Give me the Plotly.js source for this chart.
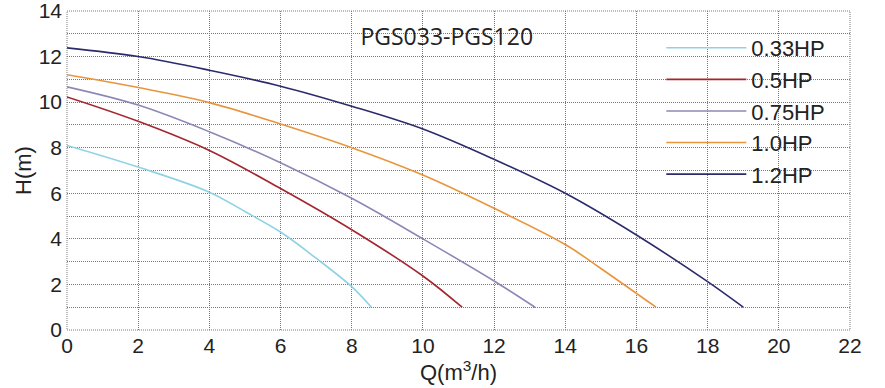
<!DOCTYPE html>
<html>
<head>
<meta charset="utf-8">
<script src="https://cdn.plot.ly/plotly-3.0.1.min.js"></script>
<style>html,body{margin:0;padding:0;background:#fff;}#chart{width:885px;height:388px;}</style>
</head>
<body>
<div id="chart"></div>
<script>
// Pump curves: flow Q (m3/h) vs head H (m)
const seriesNames = ["0.33HP", "0.5HP", "0.75HP", "1.0HP", "1.2HP"];
const q033 = [0, 2, 4, 5, 6, 7, 8, 8.55];
const h033 = [8.1, 7.15, 6.05, 5.2, 4.3, 3.15, 1.9, 1.0];
const q05 = [0, 2, 4, 6, 8, 10, 11.1];
const h05 = [10.23, 9.16, 7.88, 6.21, 4.4, 2.37, 1.0];
const q075 = [0, 2, 4, 6, 8, 10, 12, 13.15];
const h075 = [10.67, 9.87, 8.7, 7.34, 5.78, 4.0, 2.15, 1.0];
const q10 = [0, 2, 4, 6, 8, 10, 12, 14, 15, 16.55];
const h10 = [11.2, 10.64, 9.98, 9.04, 8.0, 6.8, 5.34, 3.75, 2.7, 1.0];
const q12 = [0, 2, 4, 6, 8, 10, 12, 14, 16, 18, 19];
const h12 = [12.38, 12.0, 11.4, 10.7, 9.82, 8.82, 7.49, 6.0, 4.17, 2.12, 1.0];
const xTicks = [0, 2, 4, 6, 8, 10, 12, 14, 16, 18, 20, 22];
const yTicks = [0, 2, 4, 6, 8, 10, 12, 14];

const colors = ["#8fd2e4", "#a3262f", "#8c88b6", "#e9953d", "#2b2b6c"];
const qs = [q033, q05, q075, q10, q12];
const hs = [h033, h05, h075, h10, h12];

const traces = seriesNames.map((n, i) => ({
  type: "scatter", mode: "lines", name: n,
  x: qs[i], y: hs[i],
  line: {color: colors[i], width: 1.6, shape: "spline", smoothing: 1}
}));

const gridColor = "#7a7a7a";
const gridStyle = {gridcolor: gridColor, gridwidth: 1, griddash: "1px,1px"};
const tickFont = {family: "Liberation Sans, Arial, sans-serif", size: 21, color: "#222"};

const layout = {
  width: 885, height: 388,
  margin: {l: 67, r: 35, t: 11, b: 58},
  paper_bgcolor: "#fff", plot_bgcolor: "#fff",
  showlegend: true,
  legend: {
    x: 0.759, y: 0.95, xanchor: "left", yanchor: "top",
    bgcolor: "rgba(0,0,0,0)", borderwidth: 0,
    font: {family: "Liberation Sans, Arial, sans-serif", size: 22, color: "#222"},
    itemwidth: 80, tracegroupgap: 0
  },
  title: {
    text: "PGS033-PGS120",
    font: {family: "Open Sans, sans-serif", size: 23, color: "#222"},
    xref: "paper", yref: "paper", x: 0.485, y: 0.92, xanchor: "center", yanchor: "middle"
  },
  shapes: [{
    type: "rect", xref: "paper", yref: "paper", x0: 0, x1: 1, y0: 0, y1: 1,
    line: {color: gridColor, width: 1, dash: "1px,1px"}, layer: "below"
  }],
  xaxis: Object.assign({
    range: [0, 22], tickvals: xTicks, ticktext: xTicks.map(String),
    showgrid: true, zeroline: false, showline: false, ticks: "",
    tickfont: tickFont, ticklabelstandoff: 1, ticklabeloverflow: "allow",
    title: {text: "Q(m<sup>3</sup>/h)", font: {family: "Liberation Sans, Arial, sans-serif", size: 22, color: "#222"}, standoff: 2}
  }, gridStyle),
  yaxis: Object.assign({
    range: [0, 14], tickvals: yTicks, ticktext: yTicks.map(String),
    showgrid: true, zeroline: false, showline: false, ticks: "",
    tickfont: tickFont, ticklabelstandoff: 4, ticklabeloverflow: "allow",
    minor: Object.assign({dtick: 1, showgrid: true, ticks: ""}, gridStyle),
    title: {text: "H(m)", font: {family: "Liberation Sans, Arial, sans-serif", size: 22, color: "#222"}, standoff: 0}
  }, gridStyle)
};

Plotly.newPlot("chart", traces, layout, {displayModeBar: false, staticPlot: true});
</script>
</body>
</html>
